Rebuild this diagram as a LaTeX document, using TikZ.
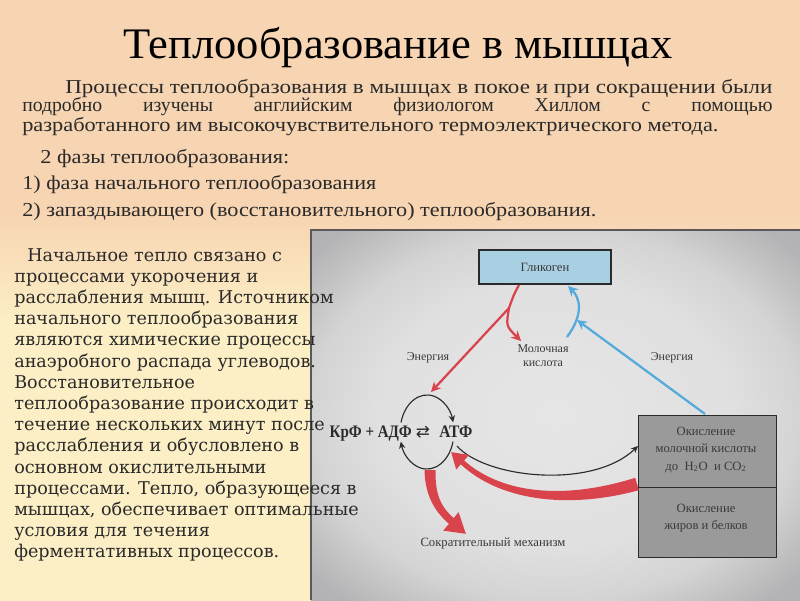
\documentclass[tikz,border=0pt]{standalone}
\usepackage{graphicx}
\usepackage{fontspec}
\setmainfont{Liberation Serif}
\newfontfamily\leftfont{DejaVu Serif}
\newfontfamily\symfont{DejaVu Sans}
\usetikzlibrary{arrows.meta}
\definecolor{peach}{HTML}{F7D5B2}
\definecolor{paleyel}{HTML}{FCEFC6}
\definecolor{redarr}{HTML}{D9434B}
\definecolor{bluearr}{HTML}{55AADD}
\definecolor{glyc}{HTML}{A8D0E2}
\definecolor{oxbox}{HTML}{9A9A9A}
\definecolor{ink}{HTML}{2A2A2A}
\definecolor{diagink}{HTML}{3A3A3A}
\definecolor{phA}{HTML}{E6E6E6}
\definecolor{phB}{HTML}{E0E0E0}
\definecolor{phC}{HTML}{D4D4D4}
\definecolor{phD}{HTML}{B4B4B6}
\definecolor{phE}{HTML}{A8A8AA}
\pgfdeclareverticalshading{bgshade}{100bp}{color(0bp)=(paleyel); color(48bp)=(paleyel); color(57bp)=(peach); color(100bp)=(peach)}
\pgfdeclareradialshading{photoshade}{\pgfpoint{0bp}{0bp}}{color(0bp)=(phA); color(18bp)=(phB); color(25bp)=(phC); color(33bp)=(phD); color(50bp)=(phE)}
\newcommand{\wline}[2]{\resizebox{#1}{\height}{#2}}
\begin{document}
\begin{tikzpicture}[x=0.025cm,y=-0.025cm,
  toptext/.style={anchor=base west, inner sep=0, text=ink, font=\fontsize{14}{16}\selectfont},
  lefttext/.style={anchor=base west, inner sep=0, text=ink, font=\leftfont\fontsize{12.5}{15}\selectfont},
  diaglabel/.style={inner sep=0, text=diagink, font=\fontsize{8.5}{10}\selectfont, align=center},
  thinarrow/.style={draw=ink, line width=0.8pt, -{Stealth[length=5pt,width=4.5pt]}},
  redthin/.style={draw=redarr, line width=1.6pt, -{Stealth[length=7pt,width=7pt]}},
  bluethin/.style={draw=bluearr, line width=1.6pt, -{Stealth[length=7pt,width=7pt]}},
  redbody/.style={fill=redarr},
  boxframe/.style={draw=ink, line width=1pt},
  reaction/.style={inner sep=0, text=ink, font=\bfseries\fontsize{12.5}{14}\selectfont}
]
\useasboundingbox (0,0) rectangle (800,600);
\fill[shading=bgshade] (0,0) rectangle (800,600);
% photo area
\fill[shading=photoshade] (311,230) rectangle (800,600);
\draw[draw=black!65, line width=1.4pt] (311,600) -- (311,230) -- (800,230);

% title
\node[anchor=base west, inner sep=0, text=black] (title) at (123,58)
  {\wline{13.725cm}{\fontsize{31}{36}\selectfont Теплообразование в мышцах}};

% top paragraph
\node[toptext] (p1) at (65,93) {\wline{17.675cm}{Процессы теплообразования в мышцах в покое и при сокращении были}};
\node[toptext] (p2) at (22,111) {\makebox[18.75cm][s]{подробно изучены английским физиологом Хиллом с помощью}};
\node[toptext] (p3) at (22,131) {\wline{17.4cm}{разработанного им высокочувствительного термоэлектрического метода.}};
\node[toptext] (p4) at (40,163) {\wline{6.225cm}{2 фазы теплообразования:}};
\node[toptext] (p5) at (22,189) {\wline{8.85cm}{1) фаза начального теплообразования}};
\node[toptext] (p6) at (22,216) {\wline{14.35cm}{2) запаздывающего (восстановительного) теплообразования.}};

% diagram boxes
\node[boxframe, fill=glyc, minimum width=3.3cm, minimum height=0.85cm, inner sep=0] (glyc) at (545,267) {};
\node[diaglabel, font=\fontsize{9}{10}\selectfont] (glyctext) at (glyc) {Гликоген};
\node[boxframe, fill=oxbox, minimum width=3.45cm, minimum height=1.8cm, inner sep=0, anchor=north west] (ox1) at (638,415) {};
\node[boxframe, fill=oxbox, minimum width=3.45cm, minimum height=1.75cm, inner sep=0, anchor=north west] (ox2) at (638,487) {};
\node[diaglabel, font=\fontsize{9}{10}\selectfont] (ox1text) at (706,450) {Окисление\\[2.2pt]молочной кислоты\\[2.2pt]до\ \ H\textsubscript{2}O\ \ и CO\textsubscript{2}};
\node[diaglabel, font=\fontsize{9}{10}\selectfont] (ox2text) at (706,518) {Окисление\\[2.5pt]жиров и белков};

% labels
\node[diaglabel] (en1) at (428,358) {Энергия};
\node[diaglabel] (en2) at (672,358) {Энергия};
\node[diaglabel] (lact) at (543,356) {Молочная\\кислота};
\node[diaglabel, font=\fontsize{9}{10}\selectfont] (contr) at (493,544) {Сократительный механизм};

% central reaction
\node[reaction, anchor=base east] (krf) at (412,437) {\wline{2.05cm}{КрФ + АДФ}};
\node[inner sep=0, text=ink, font=\symfont\fontsize{12}{13}\selectfont] (eq) at (423,432) {⇄};
\node[reaction, anchor=base west] (atf) at (439,437) {\wline{0.83cm}{АТФ}};

% coordinates
\coordinate (gOut) at (519,285);
\coordinate (split) at (509,308);
\coordinate (lactIn) at (521,341);
\coordinate (cycTop) at (431,392);
\coordinate (oxTop) at (705,414);
\coordinate (blueMid) at (577,320);
\coordinate (blueStart) at (567,337);
\coordinate (gIn) at (568,286);
\coordinate (atfOut) at (457,446);
\coordinate (oxIn) at (638,446);
\coordinate (atfTail) at (468,467);
\coordinate (atfIn) at (451,452);
\coordinate (contrTail) at (448,519);
\coordinate (contrIn) at (466,534);

% red arrows from glycogen
\draw[draw=redarr, line width=1.6pt] (gOut) .. controls (514,294) .. (split);
\draw[redthin] (split) -- (cycTop);
\draw[redthin] (split) .. controls (506,326) .. (lactIn);

% blue arrows to glycogen
\draw[bluethin] (oxTop) -- (blueMid);
\draw[bluethin] (blueStart) .. controls (584,314) and (580,298) .. (gIn);

% cycle arcs
\draw[thinarrow] (401,422.4) arc[start angle=195, end angle=345, x radius=27, y radius=37];
\draw[thinarrow] (453,441.6) arc[start angle=15, end angle=165, x radius=27, y radius=37];

% black arrow to oxidation
\draw[thinarrow] (atfOut) .. controls (485,478) and (592,490) .. (oxIn);

% thick tapered red arrow: oxidation -> ATF
\fill[redbody] (638.8,490.2) .. controls (566.4,509.8) and (498.6,500.2) .. (460.3,463.8)
  -- (463.7,460.2) .. controls (501.4,493.8) and (563.6,500.2) .. (635.2,477.8) -- cycle;
\draw[draw=redarr, line width=3pt, -{Triangle[length=11pt,width=13pt]}] (atfTail) -- (atfIn);

% thick tapered red arrow: cycle -> contraction
\fill[redbody] (424.5,470) .. controls (425,498) and (437.1,514.8) .. (451.8,525.8)
  -- (456.2,520.2) .. controls (442.9,509.2) and (435,498) .. (435.5,470) -- cycle;
\draw[draw=redarr, line width=4pt, -{Triangle[length=14pt,width=16pt]}] (contrTail) -- (contrIn);

% left text
\foreach \t [count=\i from 0] in {
  {процессами укорочения и},
  {расслабления мышц. Источником},
  {начального теплообразования},
  {являются химические процессы},
  {анаэробного распада углеводов.},
  {Восстановительное},
  {теплообразование происходит в},
  {течение нескольких минут после},
  {расслабления и обусловлено в},
  {основном окислительными},
  {процессами. Тепло, образующееся в},
  {мышцах, обеспечивает оптимальные},
  {условия для течения},
  {ферментативных процессов.}}
  \node[lefttext] (L\i) at (14,{282.2+21.2*\i}) {\t};
\node[lefttext] (L0a) at (27,261) {Начальное тепло связано с};
\end{tikzpicture}
\end{document}
